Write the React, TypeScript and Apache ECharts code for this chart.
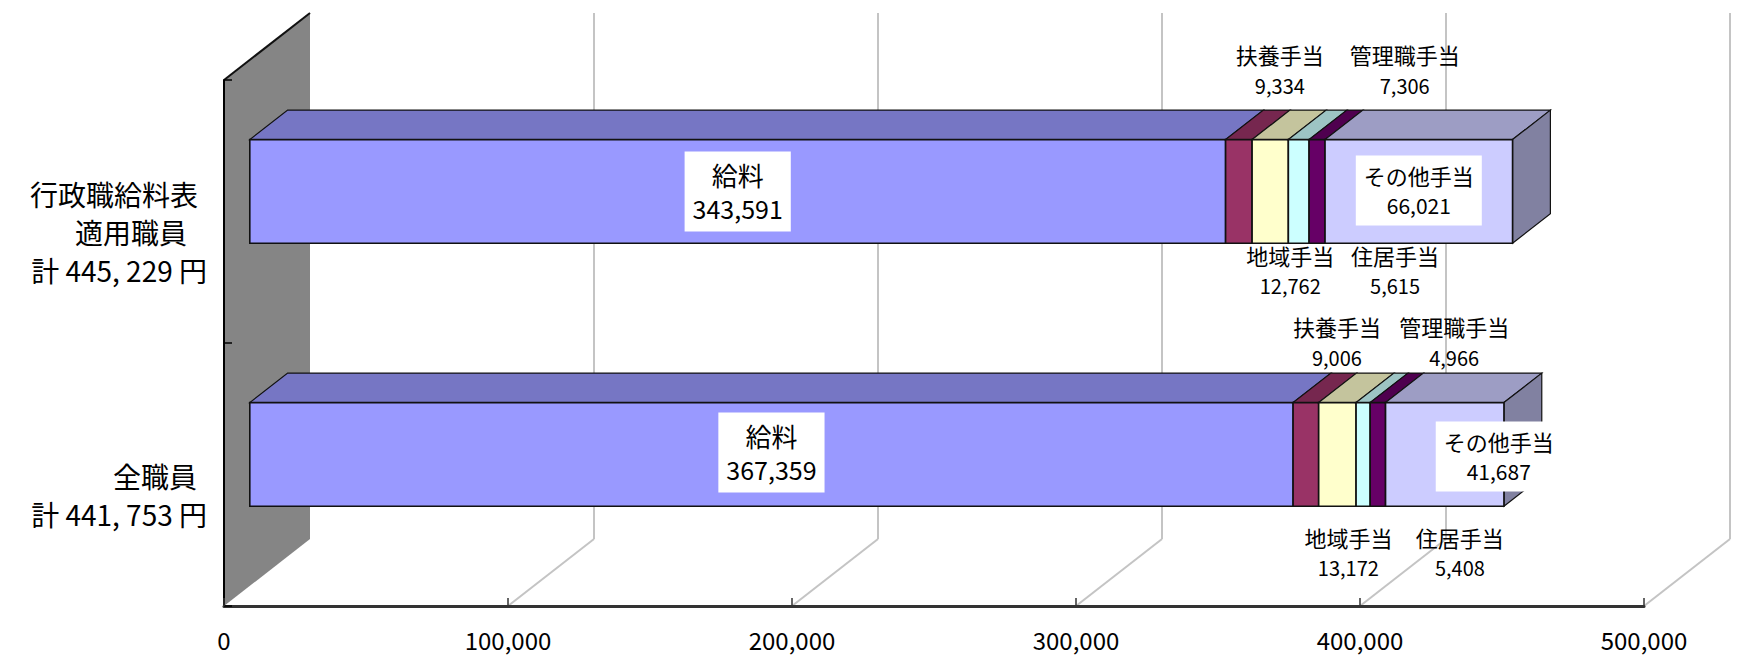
import React, { useEffect, useRef } from "react";
import * as echarts from "echarts";

// Category labels (one entry per bar, one string per line)
const CATEGORY_LINES: string[][] = [
  ["行政職給料表", "適用職員", "計 445, 229 円"],
  ["全職員", "計 441, 753 円"],
];

// Stack components, in stacking order from the axis outwards
const SERIES_NAMES = ["給料", "扶養手当", "地域手当", "管理職手当", "住居手当", "その他手当"];

// Monthly amounts (yen) per component
const ADMIN_STAFF = [343591, 9334, 12762, 7306, 5615, 66021];
const ALL_STAFF = [367359, 9006, 13172, 4966, 5408, 41687];

// Value-axis ticks
const X_TICKS = [0, 100000, 200000, 300000, 400000, 500000];

// Fill colours of the components
const COLORS = ["#9999FF", "#993366", "#FFFFCC", "#CCFFFF", "#660066", "#CCCCFF"];

const FONT = "'Noto Sans CJK JP', 'Noto Sans', sans-serif";

// Oblique projection used for the pseudo-3D look (pixels for full depth)
const DEPTH_X = 86;
const DEPTH_Y = -67;
const Z_FRONT = 0.3;
const Z_BACK = 0.74;
const BAR_RATIO = 0.394;

// Where each component's label sits, per bar
type LabelPlace = { mode: "box" | "above" | "below"; dx: number[]; dy: number[] };
const LABEL_PLACES: LabelPlace[] = [
  { mode: "box", dx: [0, 0], dy: [0, -2] },
  { mode: "above", dx: [41, 31], dy: [-70, -61] },
  { mode: "below", dx: [20, 11], dy: [27, 46] },
  { mode: "above", dx: [106, 91], dy: [-70, -61] },
  { mode: "below", dx: [78, 82], dy: [27, 46] },
  { mode: "box", dx: [0, 54], dy: [-1, 2] },
];

const fmt = (v: number) => v.toLocaleString("en-US");

function shade(hex: string, f: number): string {
  const n = parseInt(hex.slice(1), 16);
  const r = Math.round(((n >> 16) & 255) * f);
  const g = Math.round(((n >> 8) & 255) * f);
  const b = Math.round((n & 255) * f);
  return `rgb(${r},${g},${b})`;
}

function buildOption() {
  const rows = [ADMIN_STAFF, ALL_STAFF];
  const categories = CATEGORY_LINES.map((lines) => lines.join("\n"));

  // stacked [start, end, categoryIndex, value] per component
  const stacked: number[][][] = SERIES_NAMES.map(() => []);
  rows.forEach((vals, ci) => {
    let acc = 0;
    vals.forEach((v, si) => {
      stacked[si].push([acc, acc + v, ci, v]);
      acc += v;
    });
  });

  // side wall, back grid lines and floor lines
  const backdrop = {
    type: "custom",
    silent: true,
    data: X_TICKS.map((v) => [v, 0]),
    encode: { x: 0, y: 1 },
    renderItem: (params: any, api: any) => {
      const v = api.value(0);
      const cs = params.coordSys;
      const px = api.coord([v, 0])[0];
      const top = cs.y;
      const bottom = cs.y + cs.height;
      if (v === 0) {
        return {
          type: "group",
          children: [
            {
              type: "polygon",
              shape: {
                points: [
                  [px, top],
                  [px + DEPTH_X, top + DEPTH_Y],
                  [px + DEPTH_X, bottom + DEPTH_Y],
                  [px, bottom],
                ],
              },
              style: { fill: "#858585" },
            },
            {
              type: "line",
              shape: { x1: px, y1: top, x2: px + DEPTH_X, y2: top + DEPTH_Y },
              style: { stroke: "#111", lineWidth: 2 },
            },
          ],
        };
      }
      return {
        type: "group",
        children: [
          {
            type: "line",
            shape: { x1: px + DEPTH_X, y1: top + DEPTH_Y, x2: px + DEPTH_X, y2: bottom + DEPTH_Y },
            style: { stroke: "#c4c4c4", lineWidth: 2 },
          },
          {
            type: "line",
            shape: { x1: px, y1: bottom, x2: px + DEPTH_X, y2: bottom + DEPTH_Y },
            style: { stroke: "#c4c4c4", lineWidth: 2 },
          },
        ],
      };
    },
  };

  const last = SERIES_NAMES.length - 1;
  const barSeries = SERIES_NAMES.map((name, si) => ({
    type: "custom",
    name,
    silent: true,
    data: stacked[si],
    encode: { x: [0, 1], y: 2 },
    renderItem: (params: any, api: any) => {
      const start = api.value(0);
      const end = api.value(1);
      const ci = api.value(2);
      const val = api.value(3);
      const p0 = api.coord([start, ci]);
      const p1 = api.coord([end, ci]);
      const band = api.size([0, 1])[1];
      const h = band * BAR_RATIO;
      const fx = DEPTH_X * Z_FRONT;
      const fy = DEPTH_Y * Z_FRONT;
      const bx = DEPTH_X * (Z_BACK - Z_FRONT);
      const by = DEPTH_Y * (Z_BACK - Z_FRONT);
      const x0 = p0[0] + fx;
      const x1 = p1[0] + fx;
      const yc = p0[1] + fy;
      const yt = yc - h / 2;
      const yb = yc + h / 2;
      const color = COLORS[si];
      const children: any[] = [
        {
          type: "polygon",
          shape: { points: [[x0, yt], [x1, yt], [x1 + bx, yt + by], [x0 + bx, yt + by]] },
          style: { fill: shade(color, 0.77), stroke: "#111", lineWidth: 1.2 },
        },
      ];
      if (si === last) {
        children.push({
          type: "polygon",
          shape: { points: [[x1, yt], [x1 + bx, yt + by], [x1 + bx, yb + by], [x1, yb]] },
          style: { fill: shade(color, 0.63), stroke: "#111", lineWidth: 1.2 },
        });
      }
      children.push({
        type: "rect",
        shape: { x: x0, y: yt, width: x1 - x0, height: h },
        style: { fill: color, stroke: "#111", lineWidth: 1.6 },
      });

      const place = LABEL_PLACES[si];
      const cx = (x0 + x1) / 2 + place.dx[ci];
      if (place.mode === "box") {
        const big = si === 0;
        const fs = big ? 26 : 22;
        const lh = big ? 34 : 30;
        children.push({
          type: "text",
          z2: 100,
          x: cx,
          y: yc + place.dy[ci],
          style: {
            text: `{n|${name}}\n{v|${fmt(val)}}`,
            align: "center",
            verticalAlign: "middle",
            backgroundColor: "#ffffff",
            padding: big ? [6, 8] : [5, 8],
            fill: "#000",
            fontFamily: FONT,
            fontSize: fs,
            rich: {
              n: { fontSize: fs, fontFamily: FONT, lineHeight: lh, fill: "#000", align: "center" },
              v: { fontSize: fs - 1, fontFamily: FONT, lineHeight: lh, fill: "#000", align: "center" },
            },
          },
        });
      } else {
        const y = place.mode === "above" ? yt + place.dy[ci] : yb + place.dy[ci];
        children.push({
          type: "text",
          z2: 100,
          x: cx,
          y,
          style: {
            text: `{n|${name}}\n{v|${fmt(val)}}`,
            align: "center",
            verticalAlign: "middle",
            fill: "#000",
            fontFamily: FONT,
            fontSize: 22,
            rich: {
              n: { fontSize: 22, fontFamily: FONT, lineHeight: 31, fill: "#000", align: "center" },
              v: { fontSize: 20, fontFamily: FONT, lineHeight: 31, fill: "#000", align: "center" },
            },
          },
        });
      }
      return { type: "group", children };
    },
  }));

  // right padding of each category-label line
  const linePad = (ci: number, li: number, lines: string[]) => {
    if (ci === 0) return [9, 20, 0][li] ?? 0;
    return li === lines.length - 1 ? 0 : 10;
  };

  return {
    animation: false,
    backgroundColor: "#ffffff",
    grid: { left: 224, right: 100, top: 80, bottom: 50, containLabel: false },
    xAxis: {
      type: "value",
      min: 0,
      max: 500000,
      interval: 100000,
      z: 10,
      axisLine: { show: true, lineStyle: { color: "#333", width: 3 } },
      axisTick: { show: true, inside: true, length: 8, lineStyle: { color: "#333", width: 1.5 } },
      splitLine: { show: false },
      axisLabel: {
        margin: 20,
        fontSize: 24,
        lineHeight: 26,
        color: "#000",
        fontFamily: FONT,
        showMinLabel: true,
        showMaxLabel: true,
        formatter: (v: number) => fmt(v),
      },
    },
    yAxis: {
      type: "category",
      data: categories,
      inverse: true,
      z: 10,
      axisLine: { show: true, lineStyle: { color: "#000", width: 2 } },
      axisTick: { show: true, inside: true, length: 8, lineStyle: { color: "#000", width: 1.5 } },
      splitLine: { show: false },
      axisLabel: {
        margin: 17,
        align: "right",
        verticalAlign: "middle",
        padding: [40, 0, 0, 0],
        formatter: (_v: string, idx: number) => {
          const lines = CATEGORY_LINES[idx];
          return lines.map((l, li) => `{p${linePad(idx, li, lines)}|${l}}`).join("\n");
        },
        rich: {
          p0: { fontSize: 28, fontFamily: FONT, lineHeight: 38, color: "#000", align: "right", padding: [0, 0, 0, 0] },
          p9: { fontSize: 28, fontFamily: FONT, lineHeight: 38, color: "#000", align: "right", padding: [0, 9, 0, 0] },
          p10: { fontSize: 28, fontFamily: FONT, lineHeight: 38, color: "#000", align: "right", padding: [0, 10, 0, 0] },
          p20: { fontSize: 28, fontFamily: FONT, lineHeight: 38, color: "#000", align: "right", padding: [0, 20, 0, 0] },
        },
      },
    },
    series: [backdrop, ...barSeries],
  };
}

export default function App() {
  const ref = useRef<HTMLDivElement>(null);
  useEffect(() => {
    document.body.style.margin = "0";
    if (!ref.current) return;
    const chart = echarts.init(ref.current, undefined, { renderer: "svg" });
    chart.setOption(buildOption() as any);
    return () => chart.dispose();
  }, []);
  return <div ref={ref} style={{ width: 1744, height: 656, background: "#fff" }} />;
}
